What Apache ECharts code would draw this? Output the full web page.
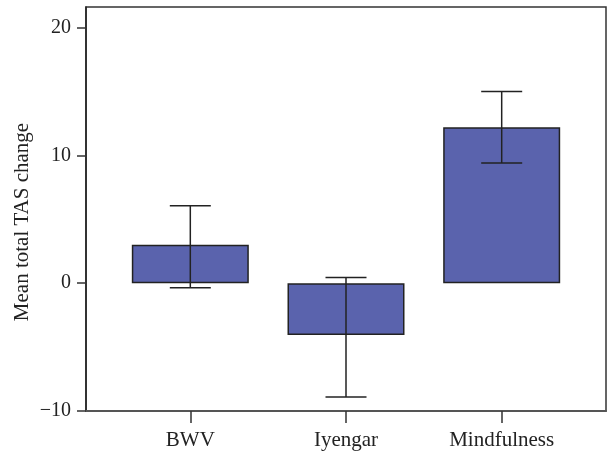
<!DOCTYPE html>
<html>
<head>
<meta charset="utf-8">
<script src="https://cdn.jsdelivr.net/npm/echarts@6/dist/echarts.min.js"></script>
<style>
  html, body { margin: 0; padding: 0; background: #fff; }
  #chart { width: 608px; height: 454px; }
</style>
</head>
<body>
<div id="chart"></div>
<script>
// groups and values
const groups = ['BWV', 'Iyengar', 'Mindfulness']
const means = [3.0, -4.05, 12.2]
const errLow = [-0.35, -8.9, 9.4]
const errHigh = [6.05, 0.45, 15.0]
const yTicks = [-10, 0, 10, 20]

const chart = echarts.init(document.getElementById('chart'))

const barData = means.map((v, i) => [i, v])
const errData = means.map((v, i) => [i, errLow[i], errHigh[i]])

const option = {
  animation: false,
  textStyle: { fontFamily: 'Liberation Serif' },
  grid: {
    left: 86, top: 7, right: 2, bottom: 43,
    show: true, borderColor: '#333', borderWidth: 1.5
  },
  xAxis: {
    type: 'value',
    min: -0.67,
    max: 2.67,
    splitLine: { show: false },
    axisLine: { show: true, onZero: false, lineStyle: { color: '#555', width: 2 } },
    axisTick: { show: true, length: 12, customValues: [0, 1, 2], lineStyle: { color: '#333', width: 1.5 } },
    axisLabel: {
      customValues: [0, 1, 2],
      formatter: v => groups[Math.round(v)],
      color: '#222', fontSize: 21, margin: 19,
      fontFamily: 'Liberation Serif'
    }
  },
  yAxis: {
    type: 'value',
    min: -10,
    max: 21.6,
    splitLine: { show: false },
    axisLine: { show: true, onZero: false, lineStyle: { color: '#222', width: 1.5 } },
    axisTick: { show: true, length: 9, customValues: yTicks, lineStyle: { color: '#333', width: 1.5 } },
    axisLabel: {
      customValues: yTicks,
      formatter: v => (v < 0 ? '\u2212' + Math.abs(v) : String(v)),
      color: '#222', fontSize: 20, margin: 15,
      fontFamily: 'Liberation Serif'
    },
    name: 'Mean total TAS change',
    nameLocation: 'middle',
    nameGap: 53,
    nameMoveOverlap: false,
    nameTextStyle: { color: '#222', fontSize: 21, fontFamily: 'Liberation Serif', padding: [0, 26, 0, 0] }
  },
  series: [
    {
      type: 'bar',
      data: barData,
      barWidth: 117,
      itemStyle: { color: '#5a63ad', borderColor: '#222', borderWidth: 1.5 }
    },
    {
      type: 'custom',
      data: errData,
      z: 10,
      renderItem: (params, api) => {
        const x = api.value(0)
        const lo = api.coord([x, api.value(1)])
        const hi = api.coord([x, api.value(2)])
        const half = 20.5
        const style = { stroke: '#222', lineWidth: 1.5 }
        return {
          type: 'group',
          children: [
            { type: 'line', shape: { x1: lo[0], y1: lo[1], x2: hi[0], y2: hi[1] }, style },
            { type: 'line', shape: { x1: lo[0] - half, y1: lo[1], x2: lo[0] + half, y2: lo[1] }, style },
            { type: 'line', shape: { x1: hi[0] - half, y1: hi[1], x2: hi[0] + half, y2: hi[1] }, style }
          ]
        }
      }
    }
  ]
}

chart.setOption(option)
</script>
</body>
</html>
